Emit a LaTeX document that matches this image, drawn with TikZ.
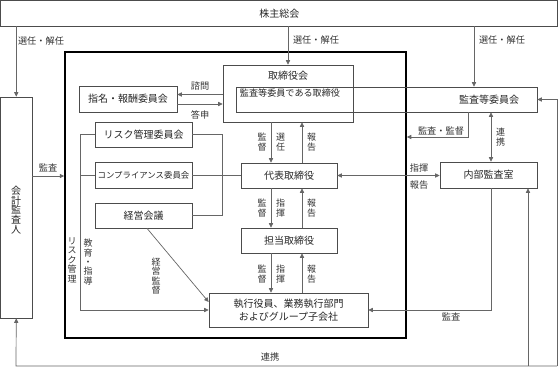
\documentclass[tikz,border=0pt]{standalone}
\usepackage{fontspec}
\setmainfont{Noto Sans CJK JP}
\usetikzlibrary{arrows.meta}
\begin{document}
\begin{tikzpicture}[x=1pt,y=-1pt,
  box/.style={draw=black!70,line width=0.7pt,inner sep=0pt,font=\fontsize{10}{11}\selectfont,text=black!85},
  ln/.style={draw=black!60,line width=0.7pt},
  arr/.style={ln,-{Triangle[length=4.5pt,width=4.2pt]}},
  darr/.style={ln,{Triangle[length=4.5pt,width=4.2pt]}-{Triangle[length=4.5pt,width=4.2pt]}},
  lbl/.style={inner sep=0pt,font=\fontsize{9.2}{9.5}\selectfont,text=black!80},
  vlbl/.style={inner sep=0pt,align=center,font=\fontsize{9}{9.4}\selectfont,text=black!80}]
\useasboundingbox (0,0) rectangle (560,367);
% boxes
\node[box,minimum width=557pt,minimum height=25.5pt] (sh) at (279.25,13.25) {株主総会};
\node[box,minimum width=31.5pt,minimum height=221pt] (kaikei) at (16.25,207.5) {};
\node[inner sep=0pt,align=center,font=\fontsize{10}{9.8}\selectfont,text=black!85] (kaikeiT) at (16.25,210) {会\\計\\監\\査\\人};
\node[draw=black,line width=1.5pt,minimum width=341pt,minimum height=286pt] (inner) at (235.5,195) {};
\node[box,minimum width=130pt,minimum height=57pt] (tori) at (288,93.5) {};
\node[box,minimum width=301pt,minimum height=25pt] (kansa) at (386.5,99.5) {};
\node[lbl,font=\fontsize{10}{11}\selectfont,text=black!85] (toriT) at (288,76) {取締役会};
\node[lbl,font=\fontsize{9.1}{11}\selectfont,text=black!85] (kdT) at (290,93) {監査等委員である取締役};
\node[lbl,font=\fontsize{10}{11}\selectfont,text=black!85] (kansaT) at (489,100) {監査等委員会};
\node[box,minimum width=98pt,minimum height=26pt] (shimei) at (128,99) {指名・報酬委員会};
\node[box,minimum width=97pt,minimum height=25pt] (risk) at (143.5,134.5) {リスク管理委員会};
\node[box,minimum width=97pt,minimum height=26pt,font=\fontsize{8.4}{10}\selectfont] (comp) at (143.5,175) {コンプライアンス委員会};
\node[box,minimum width=97pt,minimum height=25pt] (keiei) at (143.5,215.5) {経営会議};
\node[box,minimum width=96pt,minimum height=25pt] (daihyo) at (289,175.5) {代表取締役};
\node[box,minimum width=96pt,minimum height=25pt] (tanto) at (289,240.5) {担当取締役};
\node[box,minimum width=159pt,minimum height=34pt,align=center,font=\fontsize{10}{13.5}\selectfont] (shikko) at (288.5,310) {執行役員、業務執行部門\\およびグループ子会社};
\node[box,minimum width=97pt,minimum height=26pt] (naibu) at (488.5,175) {内部監査室};
% helper coordinates
\coordinate (c474) at (474,0);
\coordinate (xL) at (271,0);
\coordinate (xR) at (302,0);
\coordinate (c491) at (491,0);
\coordinate (kk) at (468,137);
\coordinate (c176) at (0,176);
\coordinate (lb) at (80,310);
\coordinate (rb) at (222,0);
\coordinate (bl) at (16,366);
\coordinate (br) at (557,366);
\coordinate (c528) at (528,0);
% connectors from shareholders
\draw[arr] (sh.south -| kaikei.north) -- (kaikei.north);
\draw[arr] (sh.south -| tori.north) -- (tori.north);
\draw[arr] (sh.south -| c474) -- (kansa.north -| c474);
\node[lbl] at (41,41) {選任・解任};
\node[lbl] at (316,40) {選任・解任};
\node[lbl] at (502,40) {選任・解任};
% 諮問・答申
\draw[arr] ([yshift=4.5pt]shimei.east -| tori.west) -- ([yshift=4.5pt]shimei.east);
\draw[arr] ([yshift=-5pt]shimei.east) -- ([yshift=-5pt]shimei.east -| tori.west);
\node[lbl] at (200,86) {諮問};
\node[lbl] at (200,115) {答申};
% board -> representative
\draw[arr] (tori.south -| xL) -- (daihyo.north -| xL);
\draw[arr] (daihyo.north -| xR) -- (tori.south -| xR);
\node[vlbl] at (262,142) {監\\督};
\node[vlbl] at (280.5,142) {選\\任};
\node[vlbl] at (311.5,142) {報\\告};
% representative -> director in charge
\draw[arr] (daihyo.south -| xL) -- (tanto.north -| xL);
\draw[arr] (tanto.north -| xR) -- (daihyo.south -| xR);
\node[vlbl] at (262,208) {監\\督};
\node[vlbl] at (280.5,208) {指\\揮};
\node[vlbl] at (311.5,208) {報\\告};
% director in charge -> executives
\draw[arr] (tanto.south -| xL) -- (shikko.north -| xL);
\draw[arr] (shikko.north -| xR) -- (tanto.south -| xR);
\node[vlbl] at (262,274) {監\\督};
\node[vlbl] at (280.5,274) {指\\揮};
\node[vlbl] at (311.5,274) {報\\告};
% representative <-> internal audit
\draw[darr] (daihyo.east) -- (daihyo.east -| naibu.west);
\node[lbl] at (419,168) {指揮};
\node[lbl] at (419,185) {報告};
% audit committee <-> internal audit
\draw[darr] (kansa.south -| c491) -- (naibu.north -| c491);
\node[vlbl] at (500.5,137) {連\\携};
% 監査・監督
\draw[arr] (kansa.south -| kk) -- (kk) -- (kk -| inner.east);
\node[lbl] at (441,131.5) {監査・監督};
% internal audit -> executives
\draw[arr] (naibu.south -| c491) |- (shikko.east);
\node[lbl] at (451,317) {監査};
% accounting auditor -> inner
\draw[arr] (kaikei.east |- c176) -- (inner.west |- c176);
\node[lbl] at (48,168) {監査};
% left bracket
\draw[arr] (risk.west) -| (lb) -- (shikko.west);
\draw[ln] (comp.west) -- (comp.west -| lb);
\node[vlbl] at (72,260) {リ\\ス\\ク\\管\\理};
\node[vlbl] at (88,262) {教\\育\\・\\指\\導};
% right bracket
\draw[ln] (risk.east) -- (risk.east -| rb) |- (keiei.east);
\draw[ln] (comp.east) -- (comp.east -| daihyo.west);
% management supervision
\draw[arr] ([xshift=3.5pt]keiei.south) -- ([yshift=8pt]shikko.west);
\node[vlbl] at (156,276) {経\\営\\監\\督};
% bottom network
\draw[arr] (br) -- (bl) -- (kaikei.south);
\draw[arr] (br) -- (br |- kansa.east) -- (kansa.east);
\draw[arr] (bl -| c528) -- (naibu.south -| c528);
\node[lbl] at (270,357) {連携};
\end{tikzpicture}
\end{document}
